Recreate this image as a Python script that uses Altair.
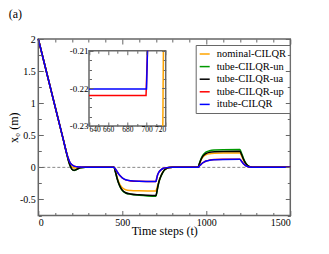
import altair as alt
import pandas as pd

# ---------------- data ----------------
T = [0, 150, 170, 180, 190, 200, 213, 230, 250, 280, 300,
     450, 460, 470, 480, 490, 500, 520, 550, 600, 650, 700,
     705, 710, 718, 730, 740, 750, 765, 780, 800,
     950, 960, 970, 980, 990, 1000, 1020, 1050, 1100, 1200,
     1210, 1220, 1230, 1240, 1250, 1265, 1280, 1300, 1500]

nominal = [2.0, 0.42, 0.21, 0.11, 0.04, 0.008, -0.008, -0.008, -0.003, 0.0, 0.0,
           0.0, -0.07, -0.16, -0.235, -0.285, -0.318, -0.348, -0.36, -0.366, -0.369, -0.37,
           -0.33, -0.285, -0.22, -0.13, -0.078, -0.042, -0.014, -0.003, 0.0,
           0.0, 0.06, 0.12, 0.16, 0.185, 0.2, 0.212, 0.219, 0.222, 0.223,
           0.18, 0.12, 0.073, 0.04, 0.018, 0.005, 0.001, 0.0, 0.0]

tube_un = [2.0, 0.42, 0.20, 0.10, 0.02, -0.03, -0.047, -0.03, -0.008, 0.0, 0.0,
           0.0, -0.08, -0.18, -0.26, -0.32, -0.36, -0.40, -0.42, -0.435, -0.445, -0.45,
           -0.40, -0.33, -0.23, -0.14, -0.085, -0.045, -0.015, -0.003, 0.0,
           0.0, 0.07, 0.14, 0.19, 0.22, 0.24, 0.26, 0.27, 0.275, 0.277,
           0.22, 0.15, 0.09, 0.05, 0.022, 0.006, 0.001, 0.0, 0.0]

tube_ua = [2.0, 0.42, 0.20, 0.10, 0.02, -0.028, -0.045, -0.03, -0.008, 0.0, 0.0,
           0.0, -0.08, -0.18, -0.26, -0.315, -0.355, -0.395, -0.415, -0.428, -0.436, -0.44,
           -0.39, -0.32, -0.225, -0.135, -0.082, -0.043, -0.014, -0.003, 0.0,
           0.0, 0.065, 0.13, 0.175, 0.2, 0.218, 0.235, 0.244, 0.248, 0.25,
           0.2, 0.135, 0.082, 0.045, 0.02, 0.005, 0.001, 0.0, 0.0]

tube_up = [2.0, 0.42, 0.21, 0.13, 0.07, 0.04, 0.02, 0.01, 0.004, 0.001, 0.0,
           0.0, -0.03, -0.07, -0.11, -0.14, -0.165, -0.195, -0.211, -0.218, -0.221, -0.222,
           -0.17, -0.12, -0.075, -0.04, -0.022, -0.012, -0.004, -0.001, 0.0,
           0.0, 0.025, 0.05, 0.073, 0.088, 0.1, 0.113, 0.121, 0.125, 0.127,
           0.095, 0.062, 0.037, 0.02, 0.01, 0.003, 0.0, 0.0, 0.0]

itube = [2.0, 0.42, 0.21, 0.13, 0.07, 0.04, 0.02, 0.01, 0.004, 0.001, 0.0,
         0.0, -0.03, -0.07, -0.11, -0.14, -0.164, -0.194, -0.21, -0.217, -0.219, -0.22,
         -0.17, -0.12, -0.075, -0.04, -0.022, -0.012, -0.004, -0.001, 0.0,
         0.0, 0.025, 0.05, 0.072, 0.087, 0.099, 0.112, 0.119, 0.123, 0.125,
         0.093, 0.06, 0.036, 0.019, 0.009, 0.003, 0.0, 0.0, 0.0]

series_names = ["nominal-CILQR", "tube-CILQR-un", "tube-CILQR-ua",
                "tube-CILQR-up", "itube-CILQR"]
series_colors = ["#ffa500", "#009900", "#000000", "#ff0000", "#0000ff"]

# inset (zoom 640..720, -0.23..-0.21)
inset_itube_t = [640, 700, 701]
inset_itube_v = [-0.2202, -0.2202, -0.21]
inset_up_t = [640, 699.5, 701]
inset_up_v = [-0.2219, -0.2219, -0.21]
inset_nominal_t = [717, 717.6]
inset_nominal_v = [-0.23, -0.21]

x_major = [0, 500, 1000, 1500]
x_minor = [100, 200, 300, 400, 600, 700, 800, 900, 1100, 1200, 1300, 1400]
y_major = [-0.5, 0, 0.5, 1, 1.5, 2]
y_minor = [-0.75, -0.25, 0.25, 0.75, 1.25, 1.75]
ix_major = [640, 660, 680, 700, 720]
ix_minor = [650, 670, 690, 710]
iy_major = [-0.23, -0.22, -0.21]
iy_minor = [-0.2275, -0.225, -0.2225, -0.2175, -0.215, -0.2125]

# ---------------- layout ----------------
W, H = 252, 176.5
IX0, IX1, IY0, IY1 = 50.7, 127.4, 11.7, 87.0   # inset box inside plot area
GRAY = "#666666"
FONT = "'Liberation Serif', 'Times New Roman', 'DejaVu Serif', serif"

rows = []
for name, vals in zip(series_names, [nominal, tube_un, tube_ua, tube_up, itube]):
    for t, v in zip(T, vals):
        rows.append({"t": t, "v": v, "series": name})
main_df = pd.DataFrame(rows)

irows = []
for name, ts, vs in [("nominal-CILQR", inset_nominal_t, inset_nominal_v),
                     ("tube-CILQR-up", inset_up_t, inset_up_v),
                     ("itube-CILQR", inset_itube_t, inset_itube_v)]:
    for t, v in zip(ts, vs):
        irows.append({"t": t, "v": v, "series": name})
inset_df = pd.DataFrame(irows)

xs = alt.Scale(domain=[0, 1500], nice=False, zero=False)
ys = alt.Scale(domain=[-0.75, 2], nice=False, zero=False)
ixs = alt.Scale(domain=[640, 720], range=[IX0, IX1], nice=False, zero=False)
iys = alt.Scale(domain=[-0.23, -0.21], range=[IY1, IY0], nice=False, zero=False)
cs = alt.Scale(domain=series_names, range=series_colors)

dummy = pd.DataFrame({"t": [0], "v": [0]})


def tick_axis(orient, values, size, base=0.0):
    return alt.Axis(orient=orient, values=values, tickSize=size,
                    offset=base - size, labels=False, domain=False,
                    title=None, grid=False, tickColor=GRAY, tickWidth=1,
                    zindex=2)


def tick_layer(xax, yax, xscale, yscale):
    return alt.Chart(dummy).mark_point(opacity=0, size=1).encode(
        x=alt.X("t:Q", scale=xscale, axis=xax),
        y=alt.Y("v:Q", scale=yscale, axis=yax),
    )


legend = alt.Legend(orient="none", legendX=157.4, legendY=6, title=None,
                    strokeColor=GRAY, fillColor="white", padding=3,
                    symbolType="stroke", symbolSize=100, symbolStrokeWidth=1.5,
                    labelFont=FONT, labelFontSize=10.5, labelOffset=6,
                    rowPadding=0.6, labelColor="black")

lines = alt.Chart(main_df).mark_line(strokeWidth=1.5, interpolate="monotone").encode(
    x=alt.X("t:Q", scale=xs,
            axis=alt.Axis(orient="bottom", values=x_major, ticks=False, domain=False,
                          grid=False, format="d", labelPadding=2,
                          labelFontSize=10, title="Time steps (t)",
                          titleFontSize=12, titleFontWeight="normal",
                          titleBaseline="alphabetic", titleY=19.5)),
    y=alt.Y("v:Q", scale=ys,
            axis=alt.Axis(orient="left", values=y_major, ticks=False, domain=False,
                          grid=False, labelExpr="'' + datum.value", labelPadding=3,
                          labelFontSize=10, title="x₀ (m)", titleFontSize=12,
                          titleFontWeight="normal", titleX=-18)),
    color=alt.Color("series:N", scale=cs, legend=legend),
    detail="series:N",
)

zero = alt.Chart(pd.DataFrame({"v": [0]})).mark_rule(
    color="#888888", strokeDash=[3, 2], strokeWidth=1).encode(
    y=alt.Y("v:Q", scale=ys, axis=None))

inset_box = alt.Chart(pd.DataFrame({"t": [640], "t2": [720], "v": [-0.23], "v2": [-0.21]})).mark_rect(
    fill="white", stroke=GRAY, strokeWidth=1.5).encode(
    x=alt.X("t:Q", scale=ixs,
            axis=alt.Axis(orient="bottom", values=ix_major, ticks=False, domain=False,
                          grid=False, format="d", labelFlush=True,
                          labelBaseline="alphabetic", labelPadding=5.3,
                          labelFontSize=7.5, title=None, offset=-(H - IY1), zindex=2)),
    x2="t2:Q",
    y=alt.Y("v:Q", scale=iys,
            axis=alt.Axis(orient="left", values=iy_major, ticks=False, domain=False,
                          grid=False, labelExpr="'' + datum.value", labelPadding=1,
                          labelFontSize=9, title=None, offset=-IX0, zindex=2)),
    y2="v2:Q",
)

inset_lines = alt.Chart(inset_df).mark_line(strokeWidth=1.5).encode(
    x=alt.X("t:Q", scale=ixs, axis=None),
    y=alt.Y("v:Q", scale=iys, axis=None),
    color=alt.Color("series:N", scale=cs, legend=None),
    detail="series:N",
)

label_a = alt.Chart(pd.DataFrame({"s": ["(a)"]})).mark_text(
    font=FONT, fontSize=12, align="left", baseline="alphabetic", color="black").encode(
    text="s:N", x=alt.value(-29.5), y=alt.value(-21))

layers = [
    zero,
    lines,
    tick_layer(tick_axis("bottom", x_major, 5), tick_axis("left", y_major, 5), xs, ys),
    tick_layer(tick_axis("bottom", x_minor, 3), tick_axis("left", y_minor, 3), xs, ys),
    tick_layer(tick_axis("top", x_major, 5), tick_axis("right", y_major, 5), xs, ys),
    tick_layer(tick_axis("top", x_minor, 3), tick_axis("right", y_minor, 3), xs, ys),
    inset_box,
    inset_lines,
    tick_layer(tick_axis("bottom", ix_major, 4, -(H - IY1)),
               tick_axis("left", iy_major, 4, -IX0), ixs, iys),
    tick_layer(tick_axis("bottom", ix_minor, 2.5, -(H - IY1)),
               tick_axis("left", iy_minor, 2.5, -IX0), ixs, iys),
    tick_layer(tick_axis("top", ix_major, 4, -IY0),
               tick_axis("right", iy_major, 4, IX1 - W), ixs, iys),
    tick_layer(tick_axis("top", ix_minor, 2.5, -IY0),
               tick_axis("right", iy_minor, 2.5, IX1 - W), ixs, iys),
    label_a,
]

chart = alt.layer(*layers).resolve_scale(x="independent", y="independent").properties(
    width=W, height=H,
    autosize=alt.AutoSizeParams(type="none"),
    padding={"left": 30.3, "top": 31, "right": 30, "bottom": 30},
).configure_view(stroke=GRAY, strokeWidth=1.5).configure_axis(
    labelFont=FONT, titleFont=FONT, labelColor="black", titleColor="black",
).configure_legend(labelFont=FONT)

chart.save("out.html", embed_options={"renderer": "svg", "actions": False})
